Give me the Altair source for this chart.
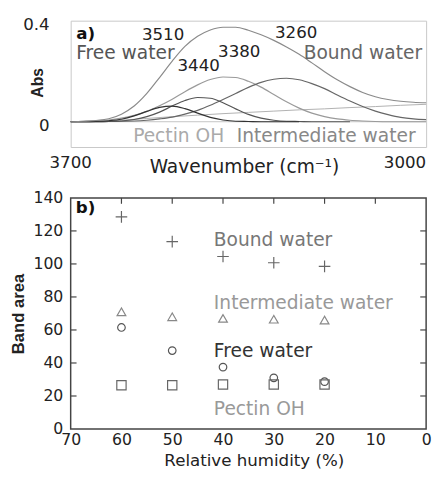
import altair as alt
import pandas as pd

# ---------------- panel a) : FTIR band decomposition ----------------
WN = [3700, 3675, 3650, 3625, 3600, 3575, 3550, 3525, 3500, 3475, 3450, 3425, 3400, 3375, 3350,
      3325, 3300, 3275, 3250, 3225, 3200, 3175, 3150, 3125, 3100, 3075, 3050, 3025, 3000]
TOTAL = [0.000, 0.002, 0.005, 0.012, 0.030, 0.062, 0.112, 0.175, 0.240, 0.298, 0.338, 0.363, 0.374, 0.374, 0.362,
         0.344, 0.322, 0.296, 0.267, 0.233, 0.198, 0.166, 0.139, 0.116, 0.099, 0.088, 0.081, 0.077, 0.075]
BAND_3510 = [0.000, 0.000, 0.001, 0.004, 0.010, 0.023, 0.041, 0.057, 0.062, 0.052, 0.034, 0.017, 0.007, 0.002, 0.001,
             0.000, 0.000, 0.000, 0.000]
BAND_3440 = [0.000, 0.000, 0.000, 0.001, 0.003, 0.009, 0.020, 0.038, 0.062, 0.084, 0.096, 0.093, 0.075, 0.051, 0.029,
             0.014, 0.006, 0.002, 0.001, 0.000, 0.000, 0.000, 0.000]
BAND_3380 = [0.001, 0.002, 0.004, 0.007, 0.014, 0.025, 0.041, 0.063, 0.089, 0.119, 0.146, 0.167, 0.177, 0.175, 0.160,
             0.137, 0.108, 0.079, 0.054, 0.034, 0.020, 0.011, 0.006, 0.003, 0.001, 0.000, 0.000, 0.000, 0.000]
BAND_3260 = [0.000, 0.000, 0.000, 0.001, 0.002, 0.003, 0.006, 0.011, 0.018, 0.030, 0.045, 0.065, 0.088, 0.112, 0.136,
             0.156, 0.168, 0.172, 0.166, 0.151, 0.131, 0.106, 0.082, 0.060, 0.042, 0.028, 0.017, 0.011, 0.008]
SLOPE_WN = [3700, 3650, 3600, 3550, 3500, 3450, 3400, 3350, 3300, 3250, 3200, 3150, 3100, 3050, 3000]
SLOPE = [0.000, 0.001, 0.006, 0.013, 0.020, 0.026, 0.032, 0.037, 0.042, 0.047, 0.051, 0.056, 0.060, 0.065, 0.069]
BASE_WN = [3700, 3000]
BASE = [0.0, 0.0]

A_XTICKS = [3700, 3000]
A_YTICKS = [0, 0.4]

# annotations of panel a): (text, wavenumber, absorbance)
A_NOTES = [("a)", 3689, 0.348), ("3510", 3518, 0.342), ("Free water", 3689, 0.272),
           ("3440", 3448, 0.220), ("3380", 3368, 0.274), ("3260", 3256, 0.350),
           ("Bound water", 3008, 0.270), ("Pectin OH", 3577, -0.055),
           ("Intermediate water", 3373, -0.055)]

# ---------------- panel b) : band areas vs relative humidity ----------------
RH = [60, 50, 40, 30, 20]
BOUND_AREA = [128.5, 113.5, 104.5, 100.7, 98.5]
INTER_AREA = [71.0, 68.0, 67.0, 66.5, 66.0]
FREE_AREA = [61.5, 47.5, 37.5, 31.0, 28.7]
PECTIN_AREA = [26.5, 26.5, 27.0, 27.0, 27.0]

B_XTICKS = [70, 60, 50, 40, 30, 20, 10, 0]
B_YTICKS = [0, 20, 40, 60, 80, 100, 120, 140]
B_INNER_X = [60, 50, 40, 30, 20, 10]
B_INNER_Y = [20, 40, 60, 80, 100, 120]

B_NOTES = [("b)", 69.0, 134.0), ("Bound water", 41.8, 114.3), ("Intermediate water", 41.8, 76.4),
           ("Free water", 41.8, 47.4), ("Pectin OH", 41.8, 12.2)]

FONT = "DejaVu Sans"
BOLD_FONT = "Liberation Sans"

# ---------------- build panel a) ----------------
AW, AH = 363, 129
xa = alt.Scale(domain=[3000, 3700], reverse=True, nice=False, zero=False)
ya = alt.Scale(domain=[-0.1, 0.4], nice=False, zero=False)

xa_axis = alt.Axis(values=A_XTICKS, title="Wavenumber (cm\u207b\u00b9)", grid=False, ticks=False, domain=False,
                   labels=False,
                   titleFont=FONT, titleFontSize=19, titleFontWeight="normal", titleColor="#222",
                   titleX=177, titleY=11, titleBaseline="top")
ya_axis = alt.Axis(values=A_YTICKS, title="Abs", grid=False, ticks=False, domain=False,
                   format="~g", labelFont=FONT, labelFontSize=17, labelColor="#222",
                   labelPadding=22, labelOffset=4,
                   titleFont=BOLD_FONT, titleFontSize=16, titleFontWeight="bold", titleColor="#222",
                   titleX=-34, titleY=63, titleBaseline="middle", titleAngle=-90)


def curve(wns, vals, color, width=1.1):
    d = pd.DataFrame({"wn": list(wns), "absorb": list(vals)})
    return alt.Chart(d).mark_line(color=color, strokeWidth=width, interpolate="monotone").encode(
        x=alt.X("wn:Q", scale=xa, axis=xa_axis),
        y=alt.Y("absorb:Q", scale=ya, axis=ya_axis),
    )


def note(text, x, y, xs, ys, xax, yax, color, size, bold=False, align="left", font=FONT):
    d = pd.DataFrame({"x": [x], "y": [y], "t": [text]})
    return alt.Chart(d).mark_text(align=align, baseline="middle", color=color, fontSize=size,
                                  fontWeight="bold" if bold else "normal", font=font).encode(
        x=alt.X("x:Q", scale=xs, axis=xax),
        y=alt.Y("y:Q", scale=ys, axis=yax),
        text="t:N",
    )


def xlabel(v, align):
    d = pd.DataFrame({"tick": [v]})
    return alt.Chart(d).mark_text(align=align, baseline="middle", fontSize=17, font=FONT,
                                  color="#222").encode(
        x=alt.X("tick:Q", scale=xa, axis=xa_axis), y=alt.value(AH + 16),
        text=alt.Text("tick:Q", format="d"))


a_styles = {
    "a)": dict(color="#111", size=17, bold=True),
    "3510": dict(color="#222", size=17, align="center"),
    "Free water": dict(color="#555", size=19),
    "3440": dict(color="#222", size=17, align="center"),
    "3380": dict(color="#222", size=17, align="center"),
    "3260": dict(color="#222", size=17, align="center"),
    "Bound water": dict(color="#666", size=19, align="right"),
    "Pectin OH": dict(color="#aaa", size=19),
    "Intermediate water": dict(color="#888", size=19),
}

a_layers = [
    curve(BASE_WN, BASE, "#c4c4c4", 1.0),
    curve(SLOPE_WN, SLOPE, "#b0b0b0", 1.0),
    curve(WN, BAND_3380, "#9a9a9a", 1.2),
    curve(WN, BAND_3260, "#666666", 1.2),
    curve(WN[:len(BAND_3440)], BAND_3440, "#555555", 1.2),
    curve(WN[:len(BAND_3510)], BAND_3510, "#333333", 1.2),
    curve(WN, TOTAL, "#8a8a8a", 1.2),
    xlabel(A_XTICKS[0], "center"),
    xlabel(A_XTICKS[1], "right"),
]
for t, x, y in A_NOTES:
    a_layers.append(note(t, x, y, xa, ya, xa_axis, ya_axis, **a_styles[t]))

panel_a = alt.layer(*a_layers).properties(
    width=AW, height=AH, view=alt.ViewBackground(stroke="#c8c8c8", strokeWidth=1)
)

# ---------------- build panel b) ----------------
BW, BH = 363, 236
xb = alt.Scale(domain=[0, 70], reverse=True, nice=False, zero=False)
yb = alt.Scale(domain=[0, 140], nice=False, zero=False)

xb_axis = alt.Axis(values=B_XTICKS, title="Relative humidity (%)", grid=False, ticks=False, domain=False,
                   labelFont=FONT, labelFontSize=16, labelColor="#222", labelPadding=3, labelFlush=False,
                   format="d",
                   titleFont=FONT, titleFontSize=17, titleFontWeight="normal", titleColor="#222",
                   titleX=187, titlePadding=5)
yb_axis = alt.Axis(values=B_YTICKS, title="Band area", grid=False, ticks=False, domain=False,
                   labelFont=FONT, labelFontSize=16, labelColor="#222", labelPadding=8, format="d",
                   titleFont=BOLD_FONT, titleFontSize=17, titleFontWeight="bold", titleColor="#222",
                   titlePadding=6)

SHAPE_PLUS = "M-1,0H1M0,-1V1"


def points(vals, shape, color, size):
    d = pd.DataFrame({"rh": RH, "area": vals})
    return alt.Chart(d).mark_point(shape=shape, filled=False, color=color, size=size, strokeWidth=1.2,
                                   opacity=1).encode(
        x=alt.X("rh:Q", scale=xb, axis=xb_axis),
        y=alt.Y("area:Q", scale=yb, axis=yb_axis),
    )


left_ticks = alt.Chart(pd.DataFrame({"t": B_INNER_Y})).mark_rule(color="#444", strokeWidth=1.2).encode(
    y=alt.Y("t:Q", scale=yb, axis=yb_axis), x=alt.value(0), x2=alt.value(6))
right_ticks = alt.Chart(pd.DataFrame({"t": B_INNER_Y})).mark_rule(color="#444", strokeWidth=1.2).encode(
    y=alt.Y("t:Q", scale=yb, axis=yb_axis), x=alt.value(BW), x2=alt.value(BW - 6))
top_ticks = alt.Chart(pd.DataFrame({"t": B_INNER_X})).mark_rule(color="#444", strokeWidth=1.2).encode(
    x=alt.X("t:Q", scale=xb, axis=xb_axis), y=alt.value(0), y2=alt.value(6))

b_styles = {
    "b)": dict(color="#111", size=17, bold=True),
    "Bound water": dict(color="#777", size=19),
    "Intermediate water": dict(color="#999", size=19),
    "Free water": dict(color="#333", size=19),
    "Pectin OH": dict(color="#999", size=19),
}

b_layers = [
    points(BOUND_AREA, SHAPE_PLUS, "#666666", 140),
    points(INTER_AREA, "triangle-up", "#888888", 80),
    points(FREE_AREA, "circle", "#555555", 60),
    points(PECTIN_AREA, "square", "#666666", 90),
    left_ticks, right_ticks, top_ticks,
]
for t, x, y in B_NOTES:
    b_layers.append(note(t, x, y, xb, yb, xb_axis, yb_axis, **b_styles[t]))

panel_b = alt.layer(*b_layers).properties(
    width=BW, height=BH, view=alt.ViewBackground(stroke="#444", strokeWidth=1.5)
)

chart = alt.vconcat(panel_a, panel_b, spacing=12).properties(
    padding={"left": 0, "top": 2, "right": 0, "bottom": 0},
    background="white",
).configure_view(stroke="#444")

chart.save("out.html", embed_options={"renderer": "svg", "actions": False})
